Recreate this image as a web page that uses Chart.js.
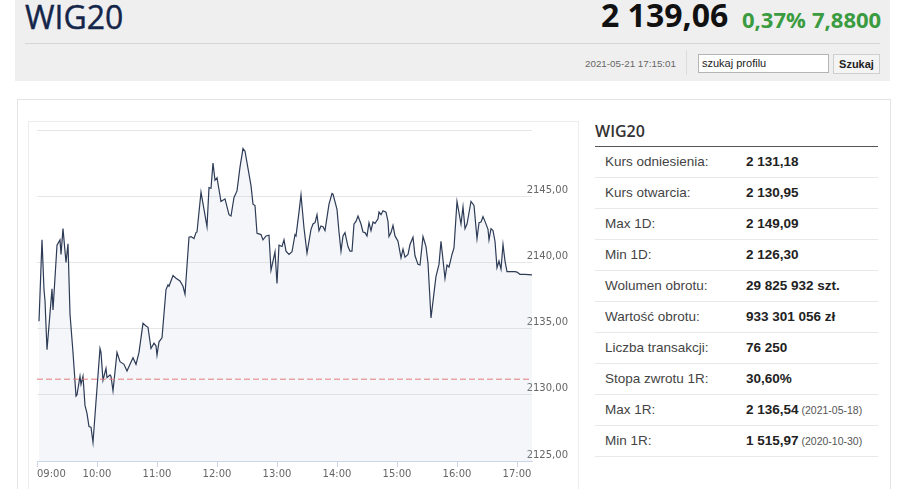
<!DOCTYPE html>
<html lang="pl">
<head>
<meta charset="utf-8">
<script src="https://cdn.jsdelivr.net/npm/chart.js@4.4.1/dist/chart.umd.min.js"></script>
<style>
  html, body { margin:0; padding:0; background:#fff; }
  body { width:915px; height:489px; overflow:hidden; position:relative; font-family:'Liberation Sans', Arial, sans-serif; }
  .abs { position:absolute; white-space:nowrap; }
  #hdr { left:15px; top:0; width:875px; height:81px; background:#efefef; }
  #title { left:25px; top:1px; font:400 32px/1 'Open Sans', sans-serif; color:#14254a; -webkit-text-stroke:0.4px #14254a; }
  #last { left:601px; top:-1px; font:700 32px/1 'Open Sans', sans-serif; color:#111; }
  #pct { left:742px; top:8px; font:700 22px/1 'Open Sans', sans-serif; color:#3a9b40; }
  #chg { left:812px; top:8px; font:700 22px/1 'Open Sans', sans-serif; color:#3a9b40; }
  #sep { left:25px; top:43px; width:855px; height:1px; background:#d6d6d6; }
  #stamp { left:585px; top:59px; font:9.8px/10px 'Liberation Sans', Arial, sans-serif; color:#666; }
  #vdiv { left:686px; top:50px; width:1px; height:25px; background:#dcdcdc; }
  #search { left:698px; top:54px; background:#fff; border:1px solid #b4b4b4; font:11px/17px 'Liberation Sans', Arial, sans-serif; color:#222; padding-left:3px; box-sizing:border-box; width:131px; height:19px; }
  #btn { left:833px; top:54px; width:47px; height:20px; box-sizing:border-box; background:#f4f4f4; border:1px solid #cfcfcf; font:700 11px/18px 'Liberation Sans', Arial, sans-serif; color:#222; text-align:center; }
  #card { left:17px; top:99px; width:872px; height:420px; border:1px solid #e4e4e4; }
  #cbox { left:28px; top:121px; width:549px; height:400px; border:1px solid #ececec; }
  #cv { left:28px; top:121px; }
  #stitle { left:595px; top:123px; font:600 16px/1 'Open Sans', sans-serif; color:#333; }
  #sline { left:595px; top:146px; width:283px; height:1px; background:#555; }
  #tbl { left:595px; top:147px; width:283px; }
  .row { height:30px; border-bottom:1px solid #e8e8e8; position:relative; font-size:13.5px; line-height:30px; }
  .lab { position:absolute; left:10px; top:0; color:#444; }
  .val { position:absolute; left:151px; top:0; color:#222; font-weight:700; }
  .note { font-weight:400; font-size:10.5px; color:#555; }
</style>
</head>
<body>
<div class="abs" id="hdr"></div>
<div class="abs" id="title">WIG20</div>
<div class="abs" id="last">2 139,06</div>
<div class="abs" id="pct">0,37%</div>
<div class="abs" id="chg">7,8800</div>
<div class="abs" id="sep"></div>
<div class="abs" id="stamp">2021-05-21 17:15:01</div>
<div class="abs" id="vdiv"></div>
<div class="abs" id="search">szukaj profilu</div>
<div class="abs" id="btn">Szukaj</div>
<div class="abs" id="card"></div>
<div class="abs" id="cbox"></div>
<canvas class="abs" id="cv" width="552" height="368" style="width:552px;height:368px;"></canvas>
<div class="abs" id="stitle">WIG20</div>
<div class="abs" id="sline"></div>
<div class="abs" id="tbl"></div>
<script>
// ---- data (minutes after 09:00, index value) ----
const minutes = [2,5,7,8,10,15,16,20,23,24,26,29,31,33,36,39,40,43,44,46,48,50,52,54,56,59,63,64,66,69,70,73,74,76,80,83,87,90,93,96,99,102,106,109,111,114,117,119,120,122,125,
  129,131,132,136,139,143,146,148,152,154,157,159,160,164,167,170,172,174,176,178,180,184,188,192,194,197,200,203,206,208,214,216,218,220,224,226,229,232,234,238,240,242,245,247,
  249,252,255,258,259,262,264,267,270,274,276,278,280,282,284,286,288,292,295,296,300,302,304,306,308,311,313,315,317,319,321,324,326,328,330,332,334,336,338,341,342,344,346,349,351,352,354,356,358,361,364,366,
  368,371,373,376,378,381,383,386,389,391,394,397,399,402,404,406,408,410,412,415,417,420,422,424,426,428,430,432,434,437,440,442,444,446,448,451,452,454,456,458,460,462,464,466,468,470,473,478,480,483,488,495];
const prices = [2135.55,2141.7,2137.95,2137.1,2133.4,2138.0,2136.4,2141.3,2141.7,2140.6,2142.55,2140.0,2141.4,2136.1,2133.2,2129.9,2130.0,2131.4,2130.8,2131.4,2129.2,2128.6,2127.6,2127.55,2126.4,2129.5,2133.5,2133.2,2131.1,2132.0,2131.3,2131.5,2131.4,2130.3,2133.2,2132.5,2132.3,2131.8,2132.3,2132.8,2132.3,2133.2,2135.4,2135.2,2135.1,2133.5,2133.9,2133.7,2133.0,2134.0,2134.3,
  2137.95,2138.3,2138.2,2139.0,2138.8,2138.6,2138.2,2137.6,2141.9,2141.95,2141.8,2142.25,2142.3,2145.3,2144.0,2142.7,2145.65,2145.6,2147.5,2146.2,2146.4,2144.6,2144.8,2143.6,2143.5,2144.9,2145.4,2147.2,2148.6,2148.4,2145.8,2144.4,2144.3,2142.2,2142.1,2141.7,2142.0,2142.05,2139.4,2140.8,2138.4,2141.3,2141.2,2141.7,
  2140.85,2140.6,2140.8,2142.1,2142.0,2143.8,2145.1,2142.6,2140.7,2142.5,2142.9,2143.0,2143.6,2142.4,2142.75,2142.7,2142.4,2144.4,2145.2,2145.15,2144.0,2142.3,2140.85,2142.0,2142.25,2141.2,2140.85,2140.85,2142.9,2143.1,2143.5,2142.9,2142.3,2142.25,2142.0,2143.0,2142.4,2143.05,2142.95,2143.3,2143.8,2143.6,2143.9,2143.8,2143.1,2141.95,2142.25,2142.8,2142.0,2141.6,2140.35,2141.0,
  2140.4,2140.6,2141.35,2141.9,2140.5,2139.85,2139.8,2141.95,2141.2,2139.95,2135.8,2137.7,2138.95,2139.85,2141.6,2140.2,2138.8,2139.8,2139.65,2140.6,2141.1,2144.6,2143.75,2142.9,2144.2,2142.55,2142.9,2143.75,2144.6,2144.3,2141.8,2143.0,2143.05,2143.45,2143.1,2142.5,2141.7,2142.55,2142.4,2141.6,2139.6,2140.1,2139.5,2141.35,2140.1,2139.3,2139.3,2139.3,2139.27,2139.1,2139.1,2139.06];
const referenceLevel = 2131.18;
const timeLabels = ['09:00','10:00','11:00','12:00','13:00','14:00','15:00','16:00','17:00',''];
const timeTickMinutes = [0,60,120,180,240,300,360,420,480,495];
const priceTickLabels = ['2125,00','2130,00','2135,00','2140,00','2145,00',''];
const statLabels = ['Kurs odniesienia:','Kurs otwarcia:','Max 1D:','Min 1D:','Wolumen obrotu:','Wartość obrotu:','Liczba transakcji:','Stopa zwrotu 1R:','Max 1R:','Min 1R:'];
const statValues = ['2 131,18','2 130,95','2 149,09','2 126,30','29 825 932 szt.','933 301 056 zł','76 250','30,60%','2 136,54','1 515,97'];
const statNotes = ['','','','','','','','','(2021-05-18)','(2020-10-30)'];

// ---- table ----
const tbl = document.getElementById('tbl');
statLabels.forEach((l, i) => {
  const r = document.createElement('div'); r.className = 'row';
  const a = document.createElement('span'); a.className = 'lab'; a.textContent = l;
  const b = document.createElement('span'); b.className = 'val'; b.textContent = statValues[i];
  if (statNotes[i]) { const n = document.createElement('span'); n.className = 'note'; n.textContent = ' ' + statNotes[i]; b.appendChild(n); }
  r.appendChild(a); r.appendChild(b); tbl.appendChild(r);
});

// ---- chart ----
Chart.defaults.font.family = "'DejaVu Sans', sans-serif";
Chart.defaults.font.size = 10;
Chart.defaults.color = '#666';
const linePts = minutes.map((m, i) => ({x: m, y: prices[i]}));
const lastTick = timeTickMinutes.length - 1;
new Chart(document.getElementById('cv'), {
  type: 'line',
  data: { datasets: [
    { data: [{x: 0, y: referenceLevel}, {x: 495, y: referenceLevel}], borderColor: '#e57a7a', borderWidth: 1, borderDash: [6, 3], pointRadius: 0, fill: false },
    { data: linePts, borderColor: '#2d3b56', borderWidth: 1.2, pointRadius: 0, tension: 0, fill: 'start', backgroundColor: 'rgba(190,200,220,0.17)' }
  ]},
  options: {
    responsive: false, animation: false, maintainAspectRatio: false,
    layout: { padding: { left: 9, top: 9, right: 0, bottom: 0 } },
    plugins: { legend: { display: false }, tooltip: { enabled: false } },
    scales: {
      x: {
        type: 'linear', min: 0, max: 495,
        afterBuildTicks: s => { s.ticks = timeTickMinutes.map(v => ({value: v})); },
        afterFit: s => { s.height = 28; s.paddingLeft = 0; s.paddingRight = 0; },
        ticks: { callback: (v, i) => timeLabels[i], padding: 1, maxRotation: 0, autoSkip: false, align: 'inner', color: '#666' },
        grid: { drawOnChartArea: false, drawTicks: true, tickLength: 6, color: '#ccd6eb',
                tickColor: c => (c.index === lastTick ? 'rgba(0,0,0,0)' : '#ccd6eb') },
        border: { display: true, color: '#ccd6eb' }
      },
      y: {
        position: 'right', min: 2125, max: 2150,
        afterBuildTicks: s => { s.ticks = priceTickLabels.map((_, i) => ({value: 2125 + 5 * i})); },
        afterFit: s => { s.width = 48; s.paddingTop = 0; s.paddingBottom = 0; },
        ticks: { callback: (v, i) => priceTickLabels[i], mirror: true, crossAlign: 'near', padding: 36, labelOffset: -6, color: '#666' },
        grid: { drawTicks: false, color: '#e6e6e6' },
        border: { display: false }
      }
    }
  }
});
</script>
</body>
</html>
